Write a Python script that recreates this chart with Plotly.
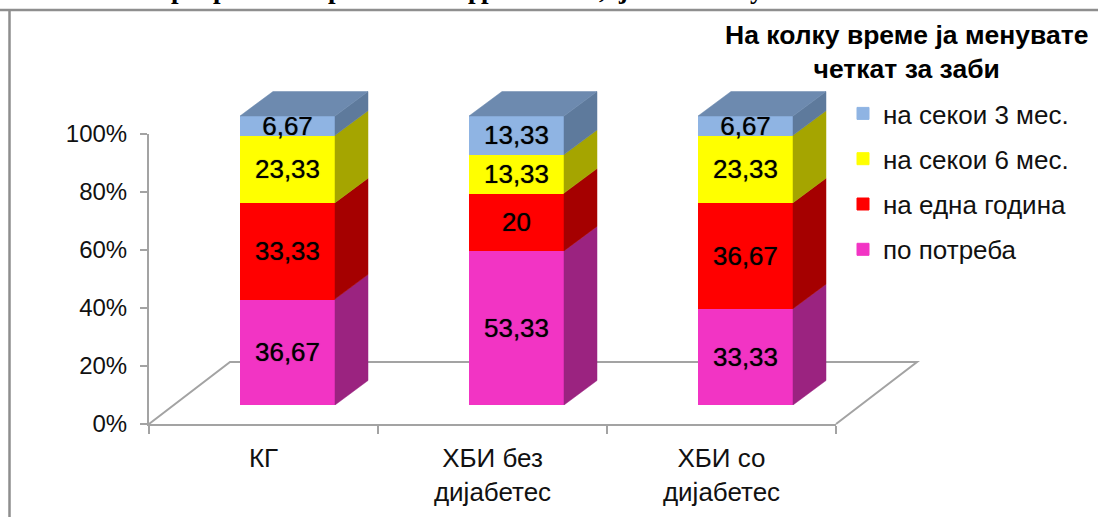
import plotly.graph_objects as go

# Chart data
categories = ["КГ", "ХБИ без<br>дијабетес", "ХБИ со<br>дијабетес"]
po_potreba = [36.67, 53.33, 33.33]
edna_godina = [33.33, 20, 36.67]
sekoi_6_mes = [23.33, 13.33, 23.33]
sekoi_3_mes = [6.67, 13.33, 6.67]
series_names = ["по потреба", "на една година", "на секои 6 мес.", "на секои 3 мес."]
y_ticks = [0, 20, 40, 60, 80, 100]
y_labels = ["0%", "20%", "40%", "60%", "80%", "100%"]
legend_title = "На колку време ја менувате<br>четкат за заби"

# Fragments of the heading line that runs off the top of the page
heading_fragments = [("р", 178), ("р", 220), ("р", 335), ("р", 475), ("р", 488), (",", 602), ("ј", 623), ("у", 757)]

W, H = 1098, 517
front_colors = ["#F234C4", "#FF0000", "#FFFF00", "#8FB4E3"]
side_colors = ["#9B2380", "#A50000", "#A5A500", "#5E7A9C"]
top_color = "#6D8AAF"
axis_color = "#A3A3A3"
text_color = "#111111"


def px(x):
    return x / W


def py(y):
    return 1 - y / H


# Plot box of the axes, and the same scale lifted onto the raised column plane
AX_L, AX_R, AX_T, AX_B = 149, 836, 134, 424
SHIFT_X, BAR_B, UNIT_Y = 24, 405, 2.89
BAR_W = 94 / 229
DEPTH_X, DEPTH_Y = 33 / 229, 24.5 / 2.89
Y2_MAX = 110

fig = go.Figure()

# Keeps the axis pair alive; it carries no marks of its own
fig.add_trace(go.Scatter(x=[0], y=[0], mode="none", showlegend=False, hoverinfo="skip"))

all_series = [po_potreba, edna_godina, sekoi_6_mes, sekoi_3_mes]
positions = list(range(len(categories)))

for rank, (name, values, front) in enumerate(zip(series_names, all_series, front_colors)):
    fig.add_trace(go.Bar(
        x=positions, y=values, name=name, legendgroup=name, legendrank=100 - rank,
        xaxis="x2", yaxis="y2", width=BAR_W,
        marker=dict(color=front, line=dict(width=1, color=front)),
        text=[f"{v:g}".replace(".", ",") for v in values],
        textposition="inside", insidetextanchor="middle", textangle=0,
        constraintext="none",
        textfont=dict(family="Liberation Sans", size=26, color="#000000",
                      shadow="0 0 1px rgba(0,0,0,0.7)"),
        hoverinfo="skip",
    ))

# Side faces and the top cap give the columns their depth
bases = [0.0] * len(categories)
for values, side in zip(all_series, side_colors):
    xs, ys = [], []
    for i, v in enumerate(values):
        r = i + 95 / 229 / 2
        b, t = bases[i], bases[i] + v
        xs += [r, r + DEPTH_X, r + DEPTH_X, r, r, None]
        ys += [b, b + DEPTH_Y, t + DEPTH_Y, t, b, None]
        bases[i] = t
    fig.add_trace(go.Scatter(
        x=xs, y=ys, xaxis="x2", yaxis="y2", mode="lines", fill="toself",
        fillcolor=side, line=dict(color=side, width=0.5),
        showlegend=False, hoverinfo="skip",
    ))

xs, ys = [], []
for i, t in enumerate(bases):
    l, r = i - 95 / 229 / 2, i + 95 / 229 / 2
    xs += [l, r, r + DEPTH_X, l + DEPTH_X, l, None]
    ys += [t, t, t + DEPTH_Y, t + DEPTH_Y, t, None]
fig.add_trace(go.Scatter(
    x=xs, y=ys, xaxis="x2", yaxis="y2", mode="lines", fill="toself",
    fillcolor=top_color, line=dict(color=top_color, width=0.5),
    showlegend=False, hoverinfo="skip",
))

# Floor outline and the outer frame
floor = (f"M{px(149)},{py(424)} L{px(230)},{py(362)} L{px(917)},{py(362)} L{px(836)},{py(424)}")
shapes = [
    dict(type="path", xref="paper", yref="paper", path=floor, layer="below",
         line=dict(color=axis_color, width=2)),
    dict(type="line", xref="paper", yref="paper", x0=0, x1=1, y0=py(10), y1=py(10),
         line=dict(color="#8E8E8E", width=2.5)),
    dict(type="line", xref="paper", yref="paper", x0=px(9.5), x1=px(9.5), y0=py(9), y1=0,
         line=dict(color="#8E8E8E", width=2.5)),
]

annotations = [
    dict(text=f"<b>{legend_title}</b>", xref="paper", yref="paper", x=px(906), y=py(52),
         xanchor="center", yanchor="middle", showarrow=False, align="center",
         font=dict(family="Liberation Sans", size=26.5, color="#000000")),
]
for glyph, x in heading_fragments:
    annotations.append(dict(
        text=f"<b>{glyph}</b>", xref="paper", yref="paper", x=px(x), y=py(6),
        xanchor="center", yanchor="bottom", showarrow=False,
        font=dict(family="Liberation Serif", size=27, color="#000000"),
    ))

fig.update_layout(
    width=W, height=H, autosize=False,
    margin=dict(l=0, r=0, t=0, b=0, autoexpand=False),
    paper_bgcolor="white", plot_bgcolor="rgba(0,0,0,0)",
    barmode="stack", shapes=shapes, annotations=annotations,
    xaxis=dict(
        domain=[px(AX_L), px(AX_R)], range=[-0.5, 2.5], anchor="y",
        tickvals=positions, ticktext=categories, ticks="",
        tickfont=dict(family="Liberation Sans", size=26, color=text_color),
        showgrid=False, zeroline=False, showline=True, linecolor=axis_color, linewidth=2,
        ticklabelstandoff=10,
        minor=dict(tickvals=[-0.5, 0.5, 1.5, 2.5], ticks="outside", ticklen=8,
                   tickwidth=2, tickcolor=axis_color, showgrid=False),
    ),
    yaxis=dict(
        domain=[py(AX_B), py(AX_T)], range=[0, 100], anchor="x",
        tickvals=y_ticks, ticktext=y_labels, ticks="outside", ticklen=7, tickwidth=2,
        tickcolor=axis_color,
        tickfont=dict(family="Liberation Sans", size=24, color=text_color),
        showgrid=False, zeroline=False,
        showline=True, linecolor=axis_color, linewidth=2, ticklabelstandoff=8,
    ),
    xaxis2=dict(
        domain=[px(AX_L + SHIFT_X), px(AX_R + SHIFT_X)], range=[-0.5, 2.5],
        anchor="y2", visible=False,
    ),
    yaxis2=dict(
        domain=[py(BAR_B), py(BAR_B - UNIT_Y * Y2_MAX)], range=[0, Y2_MAX],
        anchor="x2", visible=False,
    ),
    legend=dict(
        x=px(843), y=py(90), xanchor="left", yanchor="top",
        traceorder="grouped", tracegroupgap=8.5,
        font=dict(family="Liberation Sans", size=26, color=text_color),
        bgcolor="rgba(0,0,0,0)",
    ),
)

fig.write_html("out.html")
